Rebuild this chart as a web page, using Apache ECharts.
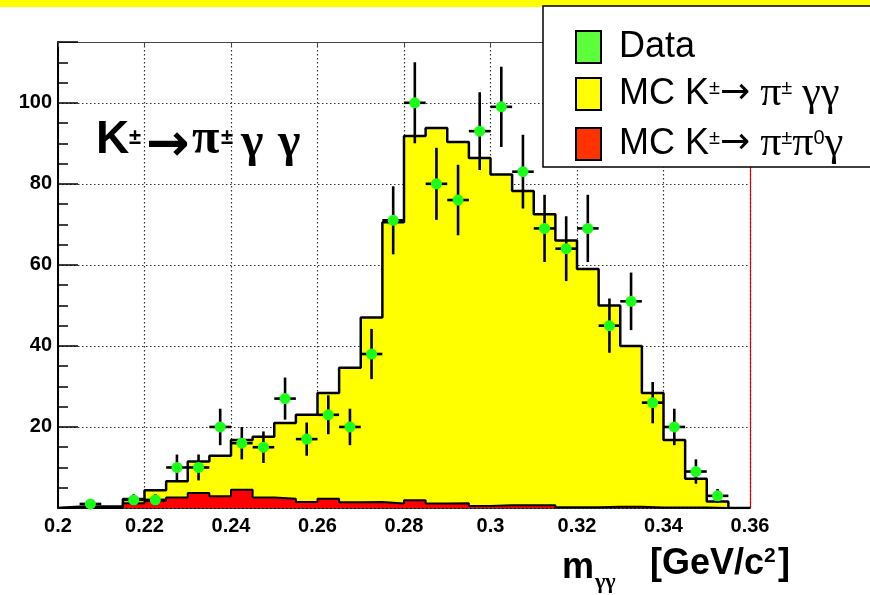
<!DOCTYPE html>
<html>
<head>
<meta charset="utf-8">
<script src="https://cdn.jsdelivr.net/npm/echarts@6/dist/echarts.min.js"></script>
<style>
html,body{margin:0;padding:0;background:#fff;}
#chart{width:870px;height:595px;}
</style>
</head>
<body>
<div id="chart"></div>
<script>
// ---- data ----
const binLow = [0.200,0.205,0.210,0.215,0.220,0.225,0.230,0.235,0.240,0.245,
                0.250,0.255,0.260,0.265,0.270,0.275,0.280,0.285,0.290,0.295,
                0.300,0.305,0.310,0.315,0.320,0.325,0.330,0.335,0.340,0.345,
                0.350,0.355];
const binWidth = 0.005;
const dataCounts = [0,1,0,2,2,10,10,20,16,15,27,17,23,20,38,71,100,80,76,93,99,83,69,64,69,45,51,26,20,9,3,0];
const dataErr    = [0,1,0,1.4,1.4,3.2,3.2,4.5,4,3.9,5.2,4.1,4.8,4.5,6.2,8.4,10,8.9,8.7,9.6,9.9,9.1,8.3,8,8.3,6.7,7.1,5.1,4.5,3,1.7,0];
const mcTotal    = [0.3,0.4,0.4,2.2,4.4,6.6,11.5,12.9,16.8,17.6,21,23,28.4,34.6,47,70.5,91.8,93.8,90.3,86.4,82.3,78.2,72.5,66,59,50,40,28.4,16.8,7.2,1.6,0];
const mcPiPi0G   = [0.15,0,0,1.2,1.8,2.6,3.7,2.9,4.5,2.6,2.3,1.5,2.3,1.4,1.5,1.1,1.9,1.1,1.2,0.5,0.7,0.7,0.7,0.2,0.2,0.3,0.3,0.15,0.1,0.1,0,0];
const xTickLabels = ['0.2','0.22','0.24','0.26','0.28','0.3','0.32','0.34','0.36'];
const yTickLabels = ['20','40','60','80','100'];
const nameData = 'Data';
const nameGG = 'MC K±→ π± γγ';
const namePi0 = 'MC K±→ π±π0γ';

// ---- build series data ----
function stepData(vals){
  const d = [[binLow[0], 0]];
  binLow.forEach((x,i)=>d.push([x, vals[i]]));
  d.push([binLow[binLow.length-1] + binWidth, vals[vals.length-1]]);
  d.push([binLow[binLow.length-1] + binWidth, 0]);
  return d;
}
const pts = [], bars = [];
binLow.forEach((x,i)=>{
  if (dataCounts[i] > 0) {
    const c = x + binWidth/2;
    pts.push([c, dataCounts[i]]);
    bars.push([c, dataCounts[i], x, x + binWidth, dataErr[i]]);
  }
});

const chart = echarts.init(document.getElementById('chart'), null, {renderer:'canvas'});
const F = 'Liberation Sans';
const option = {
  animation: false,
  backgroundColor: '#fff',
  grid: {left:58, right:120, top:42, bottom:87, containLabel:false},
  xAxis: [{
    type:'value', min:0.2, max:0.36, interval:0.02, position:'bottom',
    axisLine:{show:true, onZero:false, lineStyle:{color:'#000', width:1.5}},
    axisTick:{show:false},
    axisLabel:{margin:8, color:'#000', fontFamily:F, fontWeight:'bold', fontSize:20,
      formatter:v=>{const s=String(+v.toFixed(2)); return xTickLabels.indexOf(s)>=0?s:'';}},
    splitLine:{show:true, lineStyle:{color:'#333', width:1.2, type:[1.5,2.5]}}
  },{
    type:'value', min:0.2, max:0.36, interval:0.02, position:'top',
    axisLine:{show:true, onZero:false, lineStyle:{color:'#444', width:1}},
    axisTick:{show:true, inside:true, length:5, lineStyle:{color:'#444'}},
    axisLabel:{show:false}, splitLine:{show:false}
  }],
  yAxis: [{
    type:'value', min:0, max:115, interval:20, position:'left',
    axisLine:{show:true, onZero:false, lineStyle:{color:'#000', width:2}},
    axisTick:{show:true, inside:true, length:20, lineStyle:{color:'#000', width:1.5}},
    axisLabel:{margin:6, color:'#000', fontFamily:F, fontWeight:'bold', fontSize:20,
      formatter:v=>{const s=String(v); return yTickLabels.indexOf(s)>=0?s:'';}},
    splitLine:{show:true, lineStyle:{color:'#333', width:1.2, type:[1.5,2.5]}}
  },{
    type:'value', min:0, max:115, interval:5, position:'left',
    axisLine:{show:false},
    axisTick:{show:true, inside:true, length:10, lineStyle:{color:'#000', width:1.5}},
    axisLabel:{show:false}, splitLine:{show:false}
  },{
    type:'value', min:0, max:115, position:'right',
    axisLine:{show:true, onZero:false, lineStyle:{color:'#d00', width:1.2}},
    axisTick:{show:false}, axisLabel:{show:false}, splitLine:{show:false}
  }],
  legend: {
    orient:'vertical', left:543, top:6, selectedMode:false,
    backgroundColor:'#fff', borderColor:'#000', borderWidth:1.5, borderRadius:0,
    padding:[23,60,2,32], itemWidth:25, itemHeight:32, itemGap:8,
    textStyle:{fontFamily:F, fontSize:36, color:'#000', lineHeight:32, padding:[0,0,0,13],
      rich:{
        n:{fontFamily:F, fontSize:36, color:'#000', lineHeight:32},
        s:{fontFamily:F, fontSize:20, color:'#000', lineHeight:16, verticalAlign:'top'},
        a:{fontFamily:'DejaVu Sans', fontSize:36, color:'#000', lineHeight:32},
        g:{fontFamily:'Liberation Serif', fontSize:42, color:'#000', lineHeight:32}
      }},
    formatter: name => {
      if (name === nameGG) return '{n|MC K}{s|±}{a|→}{n| }{g|π}{s|±}{n| }{g|γγ}';
      if (name === namePi0) return '{n|MC K}{s|±}{a|→}{n| }{g|π}{s|±}{g|π}{s|0}{g|γ}';
      return '{n|' + name + '}';
    },
    data:[
      {name:nameData, icon:'rect', itemStyle:{color:'#5cff3a', borderColor:'#000', borderWidth:2}},
      {name:nameGG, icon:'rect', itemStyle:{color:'#ffff00', borderColor:'#000', borderWidth:2}},
      {name:namePi0, icon:'rect', itemStyle:{color:'#ff3300', borderColor:'#000', borderWidth:2}}
    ]
  },
  series: [
    {name:nameGG, type:'line', step:'end', xAxisIndex:0, yAxisIndex:0, data:stepData(mcTotal),
     showSymbol:false, symbol:'none', color:'#ffff00',
     lineStyle:{color:'#000', width:2.5}, areaStyle:{color:'#ffff00', opacity:1}, z:2, silent:true},
    {name:namePi0, type:'line', step:'end', xAxisIndex:0, yAxisIndex:0, data:stepData(mcPiPi0G),
     showSymbol:false, symbol:'none', color:'#ff0000',
     lineStyle:{color:'#000', width:2}, areaStyle:{color:'#ff0000', opacity:1}, z:3, silent:true},
    {name:'errors', type:'custom', xAxisIndex:0, yAxisIndex:0, data:bars, z:4, silent:true,
     renderItem:(params, api)=>{
       const x=api.value(0), y=api.value(1), xl=api.value(2), xh=api.value(3), e=api.value(4);
       const t=api.coord([x,y+e]), b=api.coord([x,Math.max(0,y-e)]);
       const l=api.coord([xl,y]), r=api.coord([xh,y]);
       return {type:'group', children:[
         {type:'line', shape:{x1:t[0],y1:t[1],x2:b[0],y2:b[1]}, style:{stroke:'#000', lineWidth:2.6}},
         {type:'line', shape:{x1:l[0],y1:l[1],x2:r[0],y2:r[1]}, style:{stroke:'#000', lineWidth:2.6}}
       ]};
     }},
    {name:nameData, type:'scatter', xAxisIndex:0, yAxisIndex:0, data:pts, symbol:'circle', symbolSize:11,
     itemStyle:{color:'#1aff1a', opacity:1}, z:5, silent:true}
  ],
  graphic: [
    {type:'rect', left:0, top:0, shape:{width:870, height:7}, style:{fill:'#ffff00'}, z:0},
    // big label  K±→π± γ γ
    {type:'text', x:96, y:140, z:100, style:{text:'K', font:'bold 46px "Liberation Sans"', fill:'#000', verticalAlign:'middle'}},
    {type:'text', x:129, y:138, z:100, style:{text:'±', font:'bold 22px "Liberation Sans"', fill:'#000', verticalAlign:'middle'}},
    {type:'text', x:146, y:146, z:100, style:{text:'→', font:'bold 52px "DejaVu Sans"', fill:'#000', verticalAlign:'middle'}},
    {type:'text', x:192, y:140, z:100, style:{text:'π', font:'bold 50px "Liberation Serif"', fill:'#000', verticalAlign:'middle'}},
    {type:'text', x:221, y:138, z:100, style:{text:'±', font:'bold 22px "Liberation Sans"', fill:'#000', verticalAlign:'middle'}},
    {type:'text', x:241, y:144, z:100, style:{text:'γ', font:'bold 48px "Liberation Serif"', fill:'#000', verticalAlign:'middle'}},
    {type:'text', x:278, y:144, z:100, style:{text:'γ', font:'bold 48px "Liberation Serif"', fill:'#000', verticalAlign:'middle'}},
    // axis title  m_γγ  [GeV/c²]
    {type:'text', x:562, y:568, z:100, style:{text:'m', font:'bold 36px "Liberation Sans"', fill:'#000', verticalAlign:'middle'}},
    {type:'text', x:595, y:582, z:100, style:{text:'γγ', font:'bold 22px "Liberation Serif"', fill:'#000', verticalAlign:'middle'}},
    {type:'text', x:650, y:564, z:100, style:{text:'[GeV/c', font:'bold 36px "Liberation Sans"', fill:'#000', verticalAlign:'middle'}},
    {type:'text', x:764, y:556, z:100, style:{text:'2', font:'bold 21px "Liberation Sans"', fill:'#000', verticalAlign:'middle'}},
    {type:'text', x:778, y:564, z:100, style:{text:']', font:'bold 36px "Liberation Sans"', fill:'#000', verticalAlign:'middle'}}
  ]
};
chart.setOption(option);
</script>
</body>
</html>
